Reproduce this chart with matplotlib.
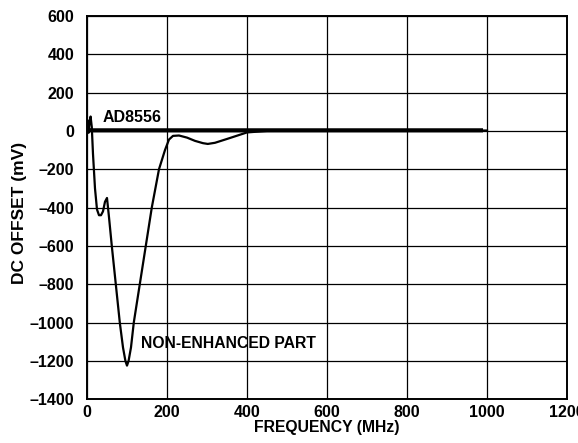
import numpy as np
import matplotlib.pyplot as plt

plt.rcParams['font.family'] = ['Liberation Sans', 'DejaVu Sans']
plt.rcParams['font.weight'] = 'bold'

# non-enhanced part
freq_ne = [0, 2, 4, 6, 9, 12, 15, 20, 25, 30, 35, 40, 45, 50, 55, 62, 72, 82,
           90, 96, 100, 104, 110, 117, 132, 147, 162, 180, 195, 205, 215,
           230, 250, 270, 290, 302, 320, 350, 400, 450, 1000]
dc_ne = [0, 55, -10, 40, 75, 20, -120, -300, -410, -440, -440, -420, -370,
         -350, -450, -600, -800, -1000, -1130, -1200, -1225, -1200, -1130,
         -1000, -800, -600, -400, -200, -100, -45, -26,
         -24, -35, -52, -64, -68, -62, -42, -8, 0, 2]

# AD8556
freq_ad = [0, 5, 10, 990]
dc_ad = [0, 5, 3, 3]

xticks = [0, 200, 400, 600, 800, 1000, 1200]
yticks = [-1400, -1200, -1000, -800, -600, -400, -200, 0, 200, 400, 600]

fig = plt.figure(figsize=(5.78, 4.43), dpi=100)
ax = fig.add_axes([0.1505, 0.099, 0.8305, 0.865])

ax.plot(freq_ne, dc_ne, color='black', lw=1.6)
ax.plot(freq_ad, dc_ad, color='black', lw=3.0, solid_capstyle='butt')

ax.set_xlim(0, 1200)
ax.set_ylim(-1400, 600)
ax.set_xticks(xticks)
ax.set_yticks(yticks)
ax.set_yticklabels([str(v).replace('-', '\u2013') for v in yticks])
ax.grid(True, color='black', lw=0.9)
ax.tick_params(length=0, labelsize=11.5)
ax.tick_params(axis='y', pad=9)
ax.tick_params(axis='x', pad=4)
for s in ax.spines.values():
    s.set_linewidth(1.4)

ax.text(40, 70, 'AD8556', fontsize=11.5, fontweight='bold', va='center')
ax.text(136, -1107, 'NON-ENHANCED PART', fontsize=11.3, fontweight='bold',
        va='center')

ax.set_xlabel('FREQUENCY (MHz)', fontsize=11.3, fontweight='bold', labelpad=0)
ax.set_ylabel('DC OFFSET (mV)', fontsize=12.5, fontweight='bold')
ax.yaxis.set_label_coords(-0.125, 0.486)

fig.savefig('out.png', dpi=100)
